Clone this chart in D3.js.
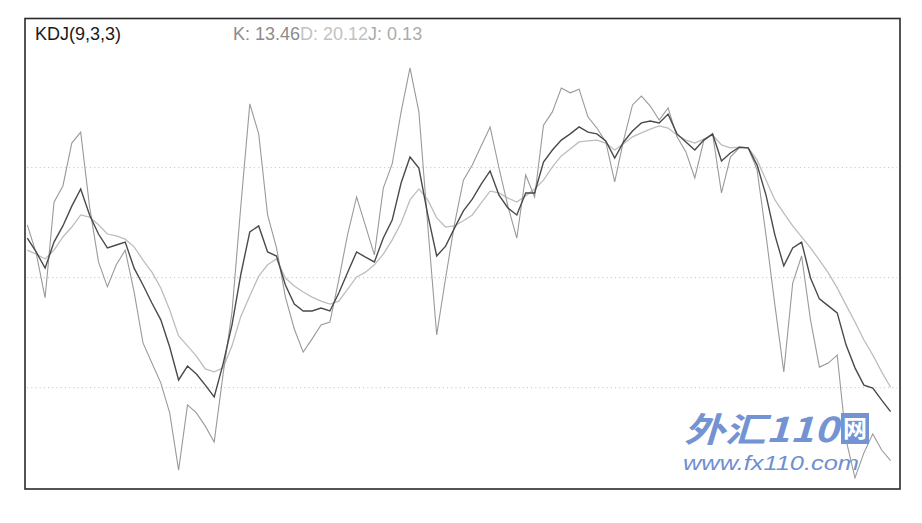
<!DOCTYPE html>
<html><head><meta charset="utf-8">
<script src="https://cdn.jsdelivr.net/npm/d3@7/dist/d3.min.js"></script>
<style>html,body{margin:0;padding:0;background:#fff;}svg{display:block;}</style>
</head><body>
<svg id="c" width="922" height="523"></svg>
<script>
const title = "KDJ(9,3,3)";
const legendLabels = ["K: 13.46", "D: 20.12", "J: 0.13"];
const gridLevels = [20, 50, 80];
const kValues = [60.8,57.0,52.6,59.7,64.1,69.5,74.2,67.1,61.9,58.1,58.9,59.7,52.6,48.0,43.1,38.5,31.1,22.1,25.9,23.7,
  20.7,17.5,26.5,37.1,51.0,62.5,64.1,57.0,55.9,48.0,42.8,40.9,40.9,41.7,40.9,45.8,51.5,57.0,55.6,54.3,
  60.8,65.7,75.8,82.9,79.9,67.1,55.9,58.6,63.5,68.2,71.4,75.5,79.1,72.5,69.0,67.1,73.1,73.1,81.5,84.8,
  87.5,89.2,91.1,89.7,89.2,87.3,82.6,87.0,90.0,92.2,92.7,92.2,94.6,89.2,87.0,84.8,87.5,89.2,81.8,84.0,
  85.6,85.4,80.7,72.5,61.6,53.2,58.1,59.7,49.9,44.2,42.3,40.4,31.6,25.4,20.7,19.9,16.6,13.46];
const dValues = [57.5,56.4,55.1,57.5,61.1,63.8,67.1,66.5,64.4,61.9,61.4,60.5,58.4,54.8,51.5,47.2,41.2,34.1,31.4,28.6,
  25.1,24.3,25.4,31.4,39.5,45.0,50.4,53.5,55.1,49.9,47.7,46.1,44.7,43.6,42.8,43.6,46.9,50.2,51.5,53.5,
  56.4,60.3,64.9,71.2,74.2,71.2,66.3,63.8,64.1,65.5,67.1,70.4,73.6,73.1,71.7,70.6,72.3,74.2,76.6,80.2,
  83.2,85.1,87.0,87.3,87.5,86.7,84.8,86.5,88.4,89.5,90.5,91.4,90.8,88.9,87.5,86.7,87.8,88.9,86.2,85.4,
  85.6,85.4,82.1,76.6,71.2,67.6,64.1,61.1,58.1,54.8,51.3,47.2,42.5,37.9,33.0,28.9,24.3,20.12];
const jValues = [64.4,56.7,44.5,70.6,75.0,86.7,89.7,69.3,54.3,47.5,53.5,57.5,46.1,32.2,26.7,21.3,13.1,-2.5,15.3,13.1,
  9.5,5.2,23.7,40.6,69.8,97.4,89.2,67.1,58.1,44.7,36.0,29.7,33.3,37.1,37.9,49.4,61.9,72.0,64.1,56.2,
  74.4,81.0,95.2,107.2,95.2,64.1,34.4,49.9,64.6,76.6,80.7,85.9,91.1,79.9,69.5,60.8,78.0,72.0,91.6,95.2,
  101.7,100.4,101.4,93.8,90.8,87.0,76.1,87.5,97.1,99.5,96.8,93.0,96.3,88.4,84.3,77.2,87.3,89.2,73.1,82.9,
  85.4,85.4,79.4,61.6,42.5,24.3,48.5,55.9,38.5,25.6,26.7,28.9,5.7,-4.6,2.2,7.4,3.0,0.13];
const watermarkMain = "外汇110";
const watermarkBox = "网";
const watermarkUrl = "www.fx110.com";

const svg = d3.select("#c");
const x = d3.scaleLinear().domain([0, kValues.length - 1]).range([27.3, 890.6]);
const y = d3.scaleLinear().domain([0, 100]).range([461, 94.3]);

// frame
svg.append("rect").attr("x", 25).attr("y", 18.5).attr("width", 875).attr("height", 470.5)
  .attr("fill", "#fff").attr("stroke", "#2a2a2a").attr("stroke-width", 1.6);

// dotted grid
svg.append("g").selectAll("line").data(gridLevels).join("line")
  .attr("x1", 27).attr("x2", 897)
  .attr("y1", d => y(d)).attr("y2", d => y(d))
  .attr("stroke", "#c4c4c4").attr("stroke-width", 1).attr("stroke-dasharray", "1.2,3");

const line = d3.line().x((d, i) => x(i)).y(d => y(d));
svg.append("path").datum(dValues).attr("d", line).attr("fill", "none")
  .attr("stroke", "#bdbdbd").attr("stroke-width", 1.3);
svg.append("path").datum(jValues).attr("d", line).attr("fill", "none")
  .attr("stroke", "#9a9a9a").attr("stroke-width", 1.1);
svg.append("path").datum(kValues).attr("d", line).attr("fill", "none")
  .attr("stroke", "#4a4a4a").attr("stroke-width", 1.4);

// header
svg.append("text").attr("x", 35).attr("y", 40).text(title)
  .attr("font-family", "Liberation Sans, Arial, sans-serif").attr("font-size", 18).attr("fill", "#1a1a1a");
const legColors = ["#8c8c8c", "#c2c2c2", "#acacac"];
const leg = svg.append("text").attr("x", 233).attr("y", 40)
  .attr("font-family", "Liberation Sans, Arial, sans-serif").attr("font-size", 18);
legendLabels.forEach((t, i) => leg.append("tspan").text(t).attr("fill", legColors[i]));

// watermark
const wm = svg.append("g");
wm.append("text").attr("x", 684).attr("y", 442).text(watermarkMain)
  .attr("font-family", "Noto Sans CJK SC, sans-serif").attr("font-size", 34)
  .attr("font-weight", "bold").attr("font-style", "italic").attr("fill", "#7393d3")
  .attr("textLength", 154).attr("lengthAdjust", "spacingAndGlyphs");
wm.append("rect").attr("x", 841).attr("y", 413).attr("width", 28).attr("height", 31).attr("fill", "#7393d3");
wm.append("text").attr("x", 855).attr("y", 437).attr("text-anchor", "middle").text(watermarkBox)
  .attr("font-family", "Noto Sans CJK SC, sans-serif").attr("font-size", 24).attr("font-weight", "bold")
  .attr("fill", "#fff");
wm.append("text").attr("x", 683).attr("y", 470).text(watermarkUrl)
  .attr("font-family", "Liberation Sans, Arial, sans-serif").attr("font-size", 21)
  .attr("font-style", "italic").attr("fill", "#6f8fcf")
  .attr("textLength", 176).attr("lengthAdjust", "spacingAndGlyphs");
</script>
</body></html>
